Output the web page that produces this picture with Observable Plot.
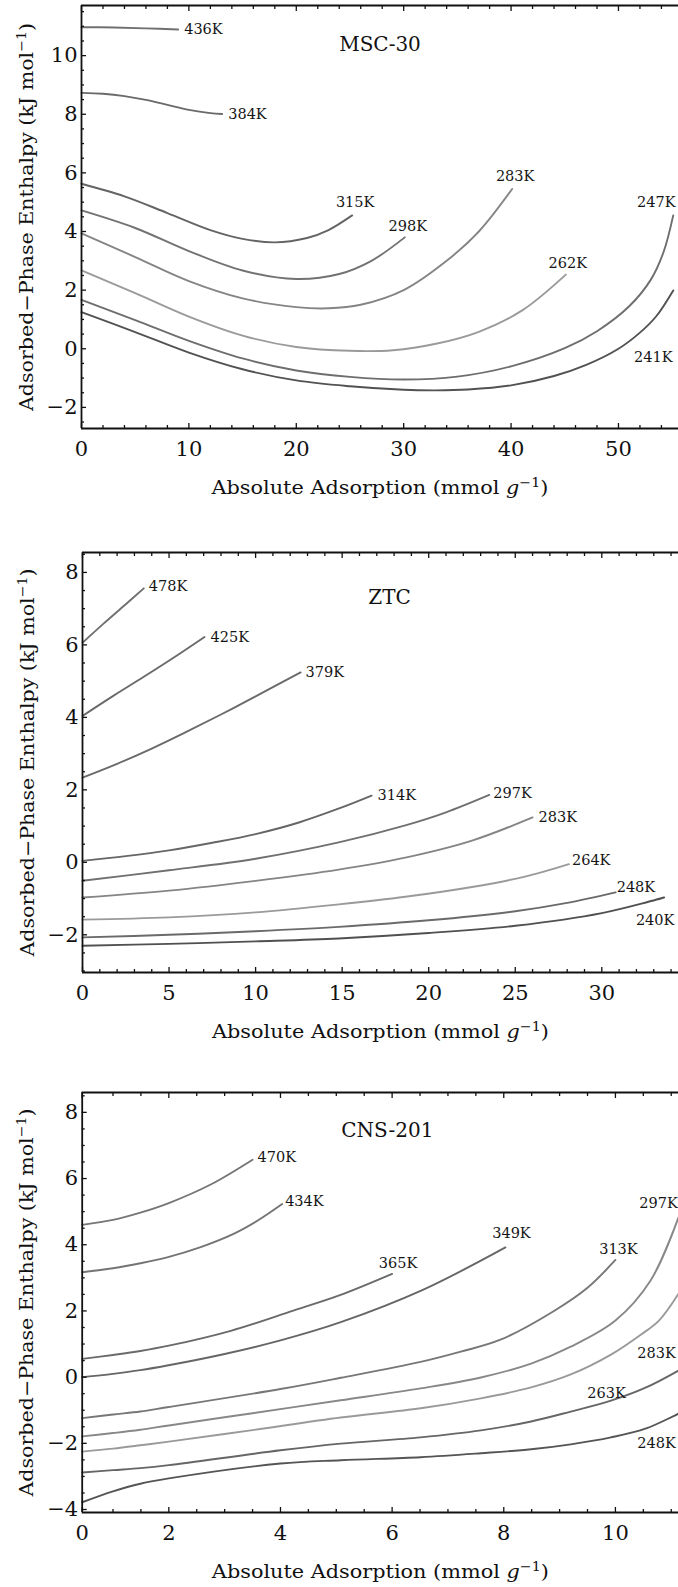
<!DOCTYPE html>
<html><head><meta charset="utf-8">
<script src="https://cdn.jsdelivr.net/npm/d3@7"></script>
<script src="https://cdn.jsdelivr.net/npm/@observablehq/plot@0.6"></script>
<style>body{margin:0;background:#fff;} svg{display:block;}</style>
</head><body><div id="chart"></div>
<script>
// ===== DATA =====
const xLabelText = "Absolute Adsorption (mmol g⁻¹)";
const yLabelText = "Adsorbed−Phase Enthalpy (kJ mol⁻¹)";

// --- MSC-30 ---
const mscTemps = ["436K","384K","315K","298K","283K","262K","247K","241K"];
const msc436 = [[0,10.97],[3,10.96],[6,10.93],[9,10.89]];
const msc384 = [[0,8.73],[2,8.70],[4,8.62],[6,8.49],[8,8.32],[10,8.15],[12,8.04],[13.1,8.01]];
const msc315 = [[0,5.63],[4,5.2],[8,4.63],[12,4.05],[15,3.75],[18,3.63],[21,3.78],[23,4.05],[25.2,4.55]];
const msc298 = [[0,4.72],[5,4.12],[10,3.33],[15,2.67],[20,2.38],[24,2.55],[27,3.0],[30.1,3.8]];
const msc283 = [[0,3.94],[5,3.13],[10,2.31],[15,1.72],[20,1.42],[23,1.38],[26,1.5],[30,2.0],[34,3.0],[37,4.0],[40.1,5.45]];
const msc262 = [[0,2.67],[5,1.9],[10,1.1],[15,0.45],[20,0.06],[25,-0.07],[29,-0.05],[33,0.17],[37,0.58],[41,1.3],[45.1,2.53]];
const msc247 = [[0,1.67],[5,0.98],[10,0.27],[15,-0.33],[20,-0.74],[25,-0.96],[30,-1.05],[35,-0.95],[40,-0.6],[45,0.02],[48,0.6],[51,1.45],[53,2.35],[54.2,3.3],[55.1,4.55]];
const msc241 = [[0,1.25],[5,0.57],[10,-0.13],[15,-0.7],[20,-1.08],[25,-1.28],[30,-1.4],[33,-1.42],[36,-1.39],[40,-1.25],[44,-0.93],[47,-0.55],[50,0.0],[52,0.55],[53.5,1.1],[55.1,1.99]];
const mscXTicks = [0,10,20,30,40,50];
const mscYTicks = [-2,0,2,4,6,8,10];

// --- ZTC ---
const ztcTemps = ["478K","425K","379K","314K","297K","283K","264K","248K","240K"];
const ztc478 = [[0,6.06],[1.2,6.58],[2.4,7.08],[3.54,7.56]];
const ztc425 = [[0,4.04],[1.8,4.6],[3.54,5.12],[5.3,5.66],[7.05,6.22]];
const ztc379 = [[0,2.34],[2,2.72],[4,3.14],[6,3.6],[8,4.08],[10,4.58],[12.6,5.24]];
const ztc314 = [[0,0.04],[2.5,0.17],[5,0.33],[7.5,0.54],[10,0.78],[12.5,1.1],[14.9,1.5],[16.7,1.84]];
const ztc297 = [[0,-0.51],[5,-0.22],[10,0.1],[14.8,0.55],[18.65,1.02],[21,1.38],[23.5,1.86]];
const ztc283 = [[0,-0.97],[5,-0.78],[10,-0.51],[14.8,-0.2],[18.65,0.13],[22.5,0.6],[26,1.24]];
const ztc264 = [[0,-1.58],[5,-1.52],[10,-1.38],[14.8,-1.16],[18.65,-0.95],[22.5,-0.68],[25.5,-0.4],[28.1,-0.05]];
const ztc248 = [[0,-2.07],[5,-2.0],[10,-1.9],[14.8,-1.78],[20,-1.6],[25,-1.35],[28,-1.12],[30.8,-0.83]];
const ztc240 = [[0,-2.3],[5,-2.25],[10,-2.18],[14.8,-2.1],[20,-1.95],[25,-1.75],[30,-1.4],[33.6,-0.97]];
const ztcXTicks = [0,5,10,15,20,25,30];
const ztcYTicks = [-2,0,2,4,6,8];

// --- CNS-201 ---
const cnsTemps = ["470K","434K","365K","349K","313K","297K","283K","263K","248K"];
const cns470 = [[0,4.6],[1,4.75],[1.49,4.97],[2,5.26],[2.75,5.82],[3.5,6.57]];
const cns434 = [[0,3.17],[1,3.29],[1.49,3.44],[1.97,3.62],[2.57,3.93],[3.16,4.33],[3.6,4.74],[4.03,5.23]];
const cns365 = [[0,0.55],[1,0.67],[1.49,0.79],[2,0.95],[3.11,1.4],[4.23,2.01],[5.04,2.46],[6,3.12]];
const cns349 = [[0,0.0],[1,0.1],[1.49,0.21],[1.97,0.35],[3,0.7],[4,1.11],[5.08,1.66],[6.53,2.62],[8.03,3.92]];
const cns313 = [[0,-1.24],[1,-1.13],[1.49,-1.04],[1.97,-0.91],[4,-0.36],[5.08,-0.02],[6.51,0.46],[7.23,0.77],[7.94,1.13],[8.9,2.0],[9.5,2.7],[10,3.54]];
const cns297 = [[0,-1.79],[1,-1.69],[1.49,-1.59],[2,-1.46],[3.5,-1.09],[5.08,-0.7],[6.51,-0.34],[7.59,-0.01],[8.49,0.41],[9.2,0.92],[10,1.71],[10.63,2.92],[11.13,4.83]];
const cns283 = [[0,-2.25],[1,-2.16],[1.49,-2.06],[2,-1.95],[3.5,-1.6],[5.08,-1.22],[6.51,-0.94],[7.59,-0.64],[8.49,-0.31],[9.2,0.08],[9.92,0.68],[10.46,1.29],[10.78,1.71],[11.13,2.52]];
const cns263 = [[0,-2.88],[1,-2.81],[1.49,-2.75],[2,-2.66],[4,-2.21],[5.08,-2.01],[6.51,-1.82],[7.59,-1.61],[8.49,-1.34],[9.2,-1.04],[9.92,-0.71],[10.55,-0.31],[11.13,0.2]];
const cns248 = [[0,-3.78],[1,-3.45],[1.49,-3.22],[2,-3.06],[4,-2.61],[5.08,-2.51],[6.51,-2.42],[7.59,-2.3],[8.49,-2.18],[9.2,-2.03],[9.92,-1.82],[10.55,-1.55],[11.13,-1.1]];
const cnsXTicks = [0,2,4,6,8,10];
const cnsYTicks = [-4,-2,0,2,4,6,8];

// ===== STYLE / LAYOUT =====
const FONT = "DejaVu Serif";
function minorOf(lo, hi, step, major) {
  return d3.range(Math.round(lo/step), Math.round(hi/step)+1).map(i => +(i*step).toFixed(4)).filter(v => !major.includes(v));
}

const panels = [
  {
    title: "MSC-30", titleDx: 0, titleDy: 39,
    temps: mscTemps, curves: [msc436,msc384,msc315,msc298,msc283,msc262,msc247,msc241],
    colors: ["#707070","#6a6a6a","#646464","#727272","#858585","#9a9a9a","#6e6e6e","#525252"],
    lab: [[6,0,"start"],[6,0,"start"],[3,-13,"middle"],[3,-11,"middle"],[3,-13,"middle"],[2,-11,"middle"],[-17,-13,"middle"],[-20,67,"middle"]],
    xDomain: [0, 55.59], xRange: [81, 678], yDomain: [-2.72, 11.71],
    xTicks: mscXTicks, xMinor: minorOf(0, 54, 2, mscXTicks),
    yTicks: mscYTicks, yMinor: minorOf(-2.5, 11.5, 0.5, mscYTicks),
    height: 520, marginTop: 5, marginBottom: 92, xLabDy: 59
  },
  {
    title: "ZTC", titleDx: 9, titleDy: 45,
    temps: ztcTemps, curves: [ztc478,ztc425,ztc379,ztc314,ztc297,ztc283,ztc264,ztc248,ztc240],
    colors: ["#707070","#6a6a6a","#6a6a6a","#666666","#707070","#858585","#9a9a9a","#6a6a6a","#505050"],
    lab: [[5,-2,"start"],[6,0,"start"],[5,0,"start"],[6,0,"start"],[4,-1.5,"start"],[6,0,"start"],[3,-4,"start"],[1,-5,"start"],[-9,23,"middle"]],
    xDomain: [0, 34.43], xRange: [82, 678], yDomain: [-3.04, 8.55],
    xTicks: ztcXTicks, xMinor: minorOf(0, 34, 1, ztcXTicks),
    yTicks: ztcYTicks, yMinor: minorOf(-3, 8.5, 0.5, ztcYTicks),
    height: 530, marginTop: 32, marginBottom: 78, xLabDy: 59
  },
  {
    title: "CNS-201", titleDx: 7, titleDy: 38,
    temps: cnsTemps, curves: [cns470,cns434,cns365,cns349,cns313,cns297,cns283,cns263,cns248],
    colors: ["#767676","#747474","#6a6a6a","#666666","#777777","#888888","#9a9a9a","#666666","#555555"],
    lab: [[5,-2,"start"],[3,-3,"start"],[6,-11,"middle"],[6,-14,"middle"],[3,-11,"middle"],[-20,-14,"middle"],[-22,60,"middle"],[-72,23,"middle"],[-22,30,"middle"]],
    xDomain: [0, 1, 11.13], xRange: [81.7, 112.5, 678], yDomain: [-4.09, 8.6],
    xTicks: cnsXTicks, xMinor: minorOf(1, 11, 0.5, cnsXTicks),
    yTicks: cnsYTicks, yMinor: minorOf(-3.5, 8.5, 0.5, cnsYTicks),
    height: 537, marginTop: 42, marginBottom: 75, xLabDy: 59
  }
];

function build(p) {
  const marks = [];
  p.curves.forEach((pts, i) => {
    marks.push(Plot.line(pts.map(([x, y]) => ({x, y})), {x: "x", y: "y", stroke: p.colors[i], strokeWidth: 1.9, curve: "catmull-rom"}));
  });
  p.curves.forEach((pts, i) => {
    const [x, y] = pts[pts.length - 1];
    const [dx, dy, anchor] = p.lab[i];
    marks.push(Plot.text([{x, y, t: p.temps[i]}], {x: "x", y: "y", text: "t", dx, dy, textAnchor: anchor, lineAnchor: "middle", fontSize: 14.5, fill: "#151515"}));
  });
  // frame (top, left, bottom)
  const lo = p.xDomain[0];
  marks.push(Plot.ruleY([p.yDomain[1]], {strokeWidth: 1.8, stroke: "#111"}));
  marks.push(Plot.ruleY([p.yDomain[0]], {strokeWidth: 1.8, stroke: "#111"}));
  marks.push(Plot.ruleX([lo], {strokeWidth: 1.8, stroke: "#111"}));
  // inward ticks
  const tk = {fill: "none", label: null, stroke: "#111", strokeWidth: 1.3};
  marks.push(Plot.axisX(p.xTicks, {...tk, anchor: "bottom", tickSize: -5}));
  marks.push(Plot.axisX(p.xMinor, {...tk, anchor: "bottom", tickSize: -3}));
  marks.push(Plot.axisX(p.xTicks, {...tk, anchor: "top", tickSize: -5}));
  marks.push(Plot.axisX(p.xMinor, {...tk, anchor: "top", tickSize: -3}));
  marks.push(Plot.axisY(p.yTicks, {...tk, anchor: "left", tickSize: -5}));
  marks.push(Plot.axisY(p.yMinor, {...tk, anchor: "left", tickSize: -3}));
  // tick labels
  marks.push(Plot.axisX(p.xTicks, {anchor: "bottom", tickSize: 0, tickPadding: 13, label: null, fontSize: 21, fill: "#111"}));
  marks.push(Plot.axisY(p.yTicks, {anchor: "left", tickSize: 0, tickPadding: 4, label: null, fontSize: 21, fill: "#111"}));
  // title and axis labels
  marks.push(Plot.text([p.title], {frameAnchor: "top", text: d => d, dx: p.titleDx, dy: p.titleDy, textAnchor: "middle", lineAnchor: "middle", fontSize: 20, fill: "#111"}));
  marks.push(Plot.text([xLabelText], {frameAnchor: "bottom", text: d => d, dy: p.xLabDy, textAnchor: "middle", lineAnchor: "middle", fontSize: 19, fill: "#111"}));
  marks.push(Plot.text([yLabelText], {frameAnchor: "left", text: d => d, rotate: -90, dx: -55, textAnchor: "middle", lineAnchor: "middle", fontSize: 19, fill: "#111"}));

  const svg = Plot.plot({
    width: 678, height: p.height,
    marginLeft: p.xRange[0], marginRight: 0, marginTop: p.marginTop, marginBottom: p.marginBottom,
    style: {fontFamily: FONT, fontSize: "21px", background: "#fff", color: "#111", overflow: "visible"},
    x: {type: "linear", domain: p.xDomain, range: p.xRange, axis: null},
    y: {domain: p.yDomain, axis: null},
    marks
  });
  svg.querySelectorAll("text").forEach(t => {
    const s = t.textContent;
    if (s === xLabelText) {
      t.innerHTML = 'Absolute Adsorption (mmol <tspan font-style="italic">g</tspan><tspan dy="-7" font-size="13">−1</tspan><tspan dy="7">)</tspan>';
      t.setAttribute("textLength", 337);
      t.setAttribute("lengthAdjust", "spacingAndGlyphs");
    } else if (s === yLabelText) {
      t.innerHTML = 'Adsorbed−Phase Enthalpy (kJ mol<tspan dy="-7" font-size="13">−1</tspan><tspan dy="7">)</tspan>';
      t.setAttribute("textLength", 388);
      t.setAttribute("lengthAdjust", "spacingAndGlyphs");
    }
  });
  return svg;
}

const root = document.getElementById("chart");
panels.forEach(p => root.appendChild(build(p)));
</script>
</body></html>
